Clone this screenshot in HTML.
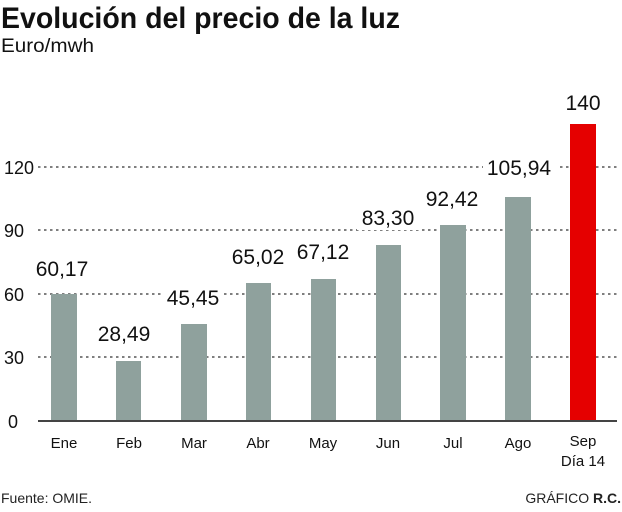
<!DOCTYPE html>
<html><head><meta charset="utf-8"><style>
body{margin:0;width:622px;height:507px;background:#fff;overflow:hidden}
</style></head><body>
<svg width="622" height="507" xmlns="http://www.w3.org/2000/svg" font-family="Liberation Sans, sans-serif">
<text x="1" y="28" font-size="30" font-weight="bold" fill="#111" textLength="399" lengthAdjust="spacingAndGlyphs">Evolución del precio de la luz</text>
<text x="1" y="52" font-size="19" fill="#111" textLength="93" lengthAdjust="spacingAndGlyphs">Euro/mwh</text>
<g stroke="#333" stroke-width="1.3" stroke-dasharray="2.5,3.5">
<line x1="38" y1="167" x2="618" y2="167"/>
<line x1="38" y1="230" x2="618" y2="230"/>
<line x1="38" y1="294" x2="618" y2="294"/>
<line x1="38" y1="357" x2="618" y2="357"/>
</g>
<g font-size="18" fill="#111">
<text x="4" y="174">120</text><text x="4" y="237">90</text><text x="4" y="301">60</text><text x="4" y="364">30</text><text x="8" y="428">0</text>
</g>
<g fill="#8fa19d">
<rect x="51" y="294" width="26" height="127"/>
<rect x="116" y="361" width="25" height="60"/>
<rect x="181" y="324" width="26" height="97"/>
<rect x="246" y="283" width="25" height="138"/>
<rect x="311" y="279" width="25" height="142"/>
<rect x="376" y="245" width="25" height="176"/>
<rect x="440" y="225" width="26" height="196"/>
<rect x="505" y="197" width="26" height="224"/>
</g>
<rect x="570" y="124" width="26" height="297" fill="#e50000"/>
<line x1="38" y1="421" x2="617" y2="421" stroke="#444" stroke-width="2"/>
<g font-size="21" fill="#111" text-anchor="middle">
<rect x="30" y="253" width="62" height="28" fill="#fff"/><text x="62" y="276">60,17</text>
<rect x="93" y="318" width="62" height="28" fill="#fff"/><text x="124" y="341">28,49</text>
<rect x="162" y="282" width="62" height="28" fill="#fff"/><text x="193" y="305">45,45</text>
<rect x="227" y="241" width="62" height="28" fill="#fff"/><text x="258" y="264">65,02</text>
<rect x="292" y="236" width="62" height="28" fill="#fff"/><text x="323" y="259">67,12</text>
<rect x="357" y="202" width="62" height="28" fill="#fff"/><text x="388" y="225">83,30</text>
<rect x="421" y="183" width="62" height="28" fill="#fff"/><text x="452" y="206">92,42</text>
<rect x="483" y="152" width="74" height="28" fill="#fff"/><text x="519" y="175">105,94</text>
<text x="583" y="110">140</text>
</g>
<g font-size="15" fill="#111" text-anchor="middle">
<text x="64" y="448">Ene</text><text x="129" y="448">Feb</text><text x="194" y="448">Mar</text><text x="258" y="448">Abr</text><text x="323" y="448">May</text><text x="388" y="448">Jun</text><text x="453" y="448">Jul</text><text x="518" y="448">Ago</text>
<text x="583" y="446">Sep</text><text x="583" y="466">Día 14</text>
</g>
<text x="1" y="503" font-size="14" fill="#222">Fuente: OMIE.</text>
<text x="621" y="503" font-size="14" fill="#222" text-anchor="end">GRÁFICO <tspan font-weight="bold">R.C.</tspan></text>
</svg>
</body></html>
